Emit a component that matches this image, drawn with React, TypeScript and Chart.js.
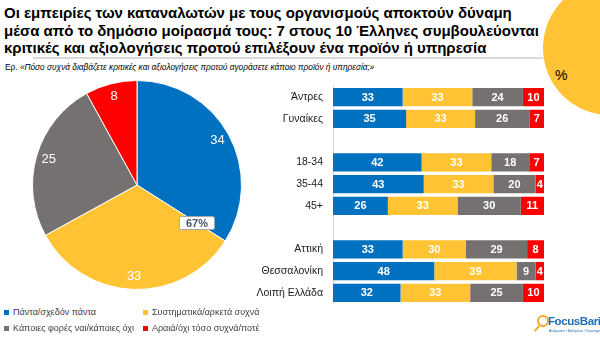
import React, { useEffect, useRef } from "react";
import { Chart, registerables } from "chart.js";

Chart.register(...registerables);

const pieLabels = ["Πάντα/σχεδόν πάντα", "Συστηματικά/αρκετά συχνά", "Κάποιες φορές ναι/κάποιες όχι", "Αραιά/όχι τόσο συχνά/ποτέ"];
const pieValues = [34, 33, 25, 8];
const pieSumLabel = "67%";

const rowLabels = ["Άντρες", "Γυναίκες", "", "18-34", "35-44", "45+", "", "Αττική", "Θεσσαλονίκη", "Λοιπή Ελλάδα"];
const alwaysVals = [33, 35, null, 42, 43, 26, null, 33, 48, 32];
const oftenVals = [33, 33, null, 33, 33, 33, null, 30, 39, 33];
const sometimesVals = [24, 26, null, 18, 20, 30, null, 29, 9, 25];
const rarelyVals = [10, 7, null, 7, 4, 11, null, 8, 4, 10];

const COLORS = ["#0070C0", "#FFC333", "#767171", "#FF0000"];
const FONT = "'Liberation Sans', Arial, sans-serif";

const seriesRaw = [alwaysVals, oftenVals, sometimesVals, rarelyVals];
const rowSums = rowLabels.map((_, i) =>
  seriesRaw.reduce((s, arr) => s + (arr[i] == null ? 0 : (arr[i] as number)), 0)
);

const pieLabelPlugin = {
  id: "pieLabels",
  afterDatasetsDraw(chart: any) {
    const ctx = chart.ctx;
    const meta = chart.getDatasetMeta(0);
    ctx.save();
    ctx.textAlign = "center";
    ctx.textBaseline = "middle";
    meta.data.forEach((arc: any, i: number) => {
      const { x, y, startAngle, endAngle, outerRadius } = arc.getProps(["x", "y", "startAngle", "endAngle", "outerRadius"], true);
      const mid = (startAngle + endAngle) / 2;
      const r = outerRadius * 0.88;
      ctx.fillStyle = "#ffffff";
      ctx.font = `13px ${FONT}`;
      ctx.fillText(String(pieValues[i]), x + Math.cos(mid) * r, y + Math.sin(mid) * r);
    });
    const a0 = meta.data[0].getProps(["x", "y", "endAngle", "outerRadius"], true);
    const rr = a0.outerRadius * 0.68;
    const bx = a0.x + Math.cos(a0.endAngle) * rr;
    const by = a0.y + Math.sin(a0.endAngle) * rr;
    const w = 35, h = 13;
    ctx.beginPath();
    (ctx as any).roundRect(bx - w / 2, by - h / 2, w, h, 2);
    ctx.fillStyle = "#ffffff";
    ctx.fill();
    ctx.strokeStyle = "#a6a6a6";
    ctx.lineWidth = 1;
    ctx.stroke();
    ctx.fillStyle = "#44546A";
    ctx.font = `bold 11px ${FONT}`;
    ctx.fillText(pieSumLabel, bx, by + 0.5);
    ctx.restore();
  },
};

const barLabelPlugin = {
  id: "barLabels",
  afterDatasetsDraw(chart: any) {
    const ctx = chart.ctx;
    ctx.save();
    ctx.textAlign = "center";
    ctx.textBaseline = "middle";
    ctx.fillStyle = "#ffffff";
    ctx.font = `bold 11px ${FONT}`;
    chart.data.datasets.forEach((ds: any, di: number) => {
      const meta = chart.getDatasetMeta(di);
      meta.data.forEach((bar: any, i: number) => {
        const raw = seriesRaw[di][i];
        if (raw == null) return;
        const { x, y, base } = bar.getProps(["x", "y", "base"], true);
        ctx.fillText(String(raw), (x + base) / 2, y + 0.5);
      });
    });
    ctx.restore();
  },
};

function PieChart() {
  const ref = useRef<HTMLCanvasElement>(null);
  useEffect(() => {
    const chart = new Chart(ref.current!, {
      type: "pie",
      data: {
        labels: pieLabels,
        datasets: [
          {
            data: pieValues,
            backgroundColor: COLORS,
            borderColor: "#ffffff",
            borderWidth: 1,
          },
        ],
      },
      options: {
        responsive: false,
        animation: false,
        plugins: { legend: { display: false }, tooltip: { enabled: false } },
        layout: { padding: 0 },
      },
      plugins: [pieLabelPlugin],
    });
    return () => chart.destroy();
  }, []);
  return <canvas ref={ref} width={210} height={210} style={{ position: "absolute", left: 32, top: 80, width: 210, height: 210 }} />;
}

function BarChart() {
  const ref = useRef<HTMLCanvasElement>(null);
  useEffect(() => {
    const chart = new Chart(ref.current!, {
      type: "bar",
      data: {
        labels: rowLabels,
        datasets: seriesRaw.map((arr, di) => ({
          label: pieLabels[di],
          data: arr.map((v, i) => (v == null ? null : ((v as number) / rowSums[i]) * 100)),
          backgroundColor: COLORS[di],
          borderWidth: 0,
          barPercentage: 0.84,
          categoryPercentage: 1,
        })),
      },
      options: {
        indexAxis: "y",
        responsive: false,
        animation: false,
        layout: { padding: { top: 6, right: 6, bottom: 6, left: 0 } },
        plugins: { legend: { display: false }, tooltip: { enabled: false } },
        scales: {
          x: { stacked: true, min: 0, max: 100, display: false },
          y: {
            stacked: true,
            grid: { display: false, drawTicks: false },
            border: { display: true, color: "#d9d9d9", width: 1 },
            ticks: { color: "#1a1a1a", font: { family: FONT, size: 10.5 }, padding: 10, autoSkip: false },
            afterFit: (scale: any) => {
              scale.width = 113;
            },
          },
        },
      },
      plugins: [barLabelPlugin],
    });
    return () => chart.destroy();
  }, []);
  return <canvas ref={ref} width={330} height={250} style={{ position: "absolute", left: 220, top: 70, width: 330, height: 250 }} />;
}

const titleLines = [
  "Οι εμπειρίες των καταναλωτών με τους οργανισμούς αποκτούν δύναμη",
  "μέσα από το δημόσιο μοίρασμά τους: 7 στους 10 Έλληνες συμβουλεύονται",
  "κριτικές και αξιολογήσεις προτού επιλέξουν ένα προϊόν ή υπηρεσία",
];
const questionPrefix = "Ερ. ";
const questionText = "«Πόσο συχνά διαβάζετε κριτικές και αξιολογήσεις προτού αγοράσετε κάποιο προϊόν ή υπηρεσία;»";

export default function App() {
  useEffect(() => {
    document.body.style.margin = "0";
  }, []);
  const legendPos = [
    { x: 4, y: 312 },
    { x: 143, y: 312 },
    { x: 4, y: 328 },
    { x: 143, y: 328 },
  ];
  return (
    <div style={{ position: "fixed", left: 0, top: 0, width: 600, height: 337, overflow: "hidden", background: "#fff", fontFamily: FONT }}>
      <div style={{ position: "absolute", left: 543, top: -19, width: 134, height: 134, borderRadius: "50%", background: "#FFC333" }} />
      <div style={{ position: "absolute", left: 555, top: 67, fontSize: 14, color: "#000" }}>%</div>
      <div style={{ position: "absolute", left: 4, top: 4, fontSize: 15, fontWeight: "bold", lineHeight: "17.5px", color: "#000", whiteSpace: "nowrap" }}>
        {titleLines.map((l, i) => (
          <div key={i}>{l}</div>
        ))}
      </div>
      <div style={{ position: "absolute", left: 33, top: 57, width: 510, height: 2, background: "#d9d9d9" }} />
      <div style={{ position: "absolute", left: 5, top: 62, fontSize: 8.3, color: "#000", whiteSpace: "nowrap" }}>
        {questionPrefix}
        <i>{questionText}</i>
      </div>
      <PieChart />
      <BarChart />
      {pieLabels.map((l, i) => (
        <div key={i} style={{ position: "absolute", left: legendPos[i].x, top: legendPos[i].y - 6, height: 12, display: "flex", alignItems: "center", fontSize: 9, color: "#404040", whiteSpace: "nowrap" }}>
          <span style={{ display: "inline-block", width: 5, height: 5, background: COLORS[i], marginRight: 4 }} />
          {l}
        </div>
      ))}
      <div style={{ position: "absolute", left: 533, top: 314, width: 67, height: 22 }}>
        <div style={{ position: "absolute", left: 4, top: 1, width: 8, height: 8, borderRadius: "50%", border: "2px solid #F7A823" }} />
        <div style={{ position: "absolute", left: 3, top: 11, width: 2, height: 7, background: "#F7A823", transform: "rotate(40deg)" }} />
        <div style={{ position: "absolute", left: 15, top: 1, fontSize: 11.5, fontWeight: "bold", color: "#1F6FB5", letterSpacing: -0.4, whiteSpace: "nowrap" }}>FocusBari</div>
        <div style={{ position: "absolute", left: 16, top: 15, fontSize: 3.5, color: "#1F6FB5", whiteSpace: "nowrap" }}>Άνθρωποι • Δεδομένα • Στρατηγική</div>
      </div>
    </div>
  );
}
